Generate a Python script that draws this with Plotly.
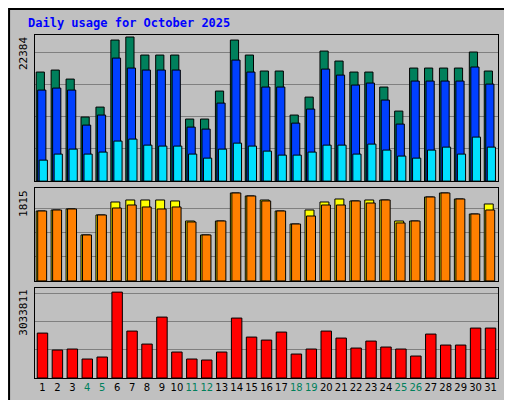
import plotly.graph_objects as go
from plotly.subplots import make_subplots

days = list(range(1, 32))
weekend = [4, 5, 11, 12, 18, 19, 25, 26]

hits = [16940, 17250, 15850, 9950, 11500, 21910, 22384, 19580, 19580, 19580, 9640, 9640, 13990, 21910,
        19580, 17100, 17100, 10260, 13050, 20200, 18650, 16940, 16940, 14610, 10880, 17560, 17560, 17560,
        17560, 20050, 17100]
files = [14140, 14450, 14140, 8700, 10260, 19110, 17560, 17250, 17250, 17250, 8390, 8080, 12120, 18800,
         16940, 14610, 14610, 9010, 11190, 17400, 16470, 14920, 15230, 12590, 8860, 15540, 15540, 15540,
         15540, 17720, 15070]
pages = [3260, 4200, 4970, 4200, 4510, 6220, 6530, 5590, 5440, 5440, 4200, 3570, 4970, 5900,
         5440, 4660, 4040, 4040, 4510, 5590, 5590, 4200, 5750, 4820, 3890, 3570, 4820, 5280,
         4200, 6840, 5280]
visits = [1443, 1464, 1485, 949, 1361, 1629, 1670, 1670, 1670, 1650, 1237, 949, 1237, 1815,
          1753, 1670, 1443, 1175, 1464, 1629, 1691, 1650, 1670, 1670, 1237, 1237, 1732, 1815,
          1691, 1381, 1588]
sites = [1443, 1464, 1485, 949, 1361, 1505, 1567, 1526, 1485, 1526, 1217, 949, 1237, 1815,
         1753, 1650, 1443, 1175, 1340, 1567, 1567, 1650, 1608, 1670, 1196, 1237, 1732, 1815,
         1691, 1381, 1464]
kbytes = [1587000, 987800, 1023000, 670300, 740800, 3033811, 1658000, 1199000, 2152000, 917200,
          670300, 635000, 917200, 2117000, 1446000, 1340000, 1623000, 846700, 1023000, 1658000,
          1411000, 1058000, 1305000, 1094000, 1023000, 776100, 1552000, 1164000, 1164000, 1764000,
          1764000]

fig = make_subplots(rows=3, cols=1, shared_xaxes=True)
line = dict(color="black", width=1)

def add(vals, color, off, w, row):
    fig.add_trace(go.Bar(x=days, y=vals, offset=off, width=w,
                         marker=dict(color=color, line=line)), row=row, col=1)

add(hits, "#00805C", -0.42, 0.55, 1)
add(files, "#0040FF", -0.32, 0.55, 1)
add(pages, "#00E0FF", -0.22, 0.55, 1)
add(visits, "#FFFF00", -0.42, 0.6, 2)
add(sites, "#FF8000", -0.32, 0.6, 2)
add(kbytes, "#FF0000", -0.35, 0.7, 3)

ticktext = [f"<span style='color:#00805C'>{d}</span>" if d in weekend else str(d) for d in days]

fig.update_layout(
    width=512, height=400, barmode="overlay", showlegend=False,
    paper_bgcolor="#C0C0C0", plot_bgcolor="#C0C0C0",
    margin=dict(l=27, r=22, t=27, b=30, autoexpand=False),
    font=dict(family="DejaVu Sans Mono", size=11, color="black"),
    yaxis=dict(domain=[0.574, 1], range=[0, 22384 * 146 / 144]),
    yaxis2=dict(domain=[0.283, 0.554], range=[0, 1815 * 93 / 88]),
    yaxis3=dict(domain=[0, 0.262], range=[0, 3033811 * 90 / 86]),
)
for i in (1, 2, 3):
    fig.update_yaxes(row=i, col=1, showticklabels=False, ticks="", nticks=5, automargin=False,
                     gridcolor="#808080", gridwidth=1, showline=True, mirror=True,
                     linecolor="black", zeroline=False)
    fig.update_xaxes(row=i, col=1, range=[0.5, 31.5], showline=True, mirror=True, automargin=False,
                     linecolor="black", showgrid=False, zeroline=False)
fig.update_xaxes(row=3, col=1, tickvals=days, ticktext=ticktext, ticks="", tickangle=0,
                 tickfont=dict(family="DejaVu Sans", size=10))

ann = dict(xref="paper", yref="paper", showarrow=False, textangle=-90,
           font=dict(family="DejaVu Sans Mono", size=11))
fig.add_annotation(text="22384", x=0, y=1.0, xanchor="right", yanchor="top", xshift=-3, **ann)
fig.add_annotation(text="1815", x=0, y=0.554, xanchor="right", yanchor="top", xshift=-3, **ann)
fig.add_annotation(text="3033811", x=0, y=0.262, xanchor="right", yanchor="top", xshift=-3, **ann)
fig.add_annotation(text="<span style='color:#00E0FF'>Pages</span> / <span style='color:#0040FF'>Files</span> / <span style='color:#00805C'>Hits</span>",
                   x=1, y=1.0, xanchor="left", yanchor="top", xshift=3, **ann)
fig.add_annotation(text="<span style='color:#FF8000'>Sites</span> / <span style='color:#FFFF00'>Visits</span>",
                   x=1, y=0.554, xanchor="left", yanchor="top", xshift=3, **ann)
fig.add_annotation(text="<span style='color:#FF0000'>KBytes</span>",
                   x=1, y=0.0, xanchor="left", yanchor="bottom", xshift=3, **ann)
fig.add_annotation(text="<b>Daily usage for October 2025</b>", xref="paper", yref="paper",
                   x=0, y=1, xanchor="left", yanchor="bottom", showarrow=False, xshift=-9, yshift=3,
                   font=dict(family="DejaVu Sans Mono", size=12, color="#0000FF"))
fig.add_shape(type="rect", xref="paper", yref="paper", x0=-0.056, x1=1.043, y0=-0.082, y1=1.076,
              line=dict(color="black", width=2))

fig.write_html("out.html")
